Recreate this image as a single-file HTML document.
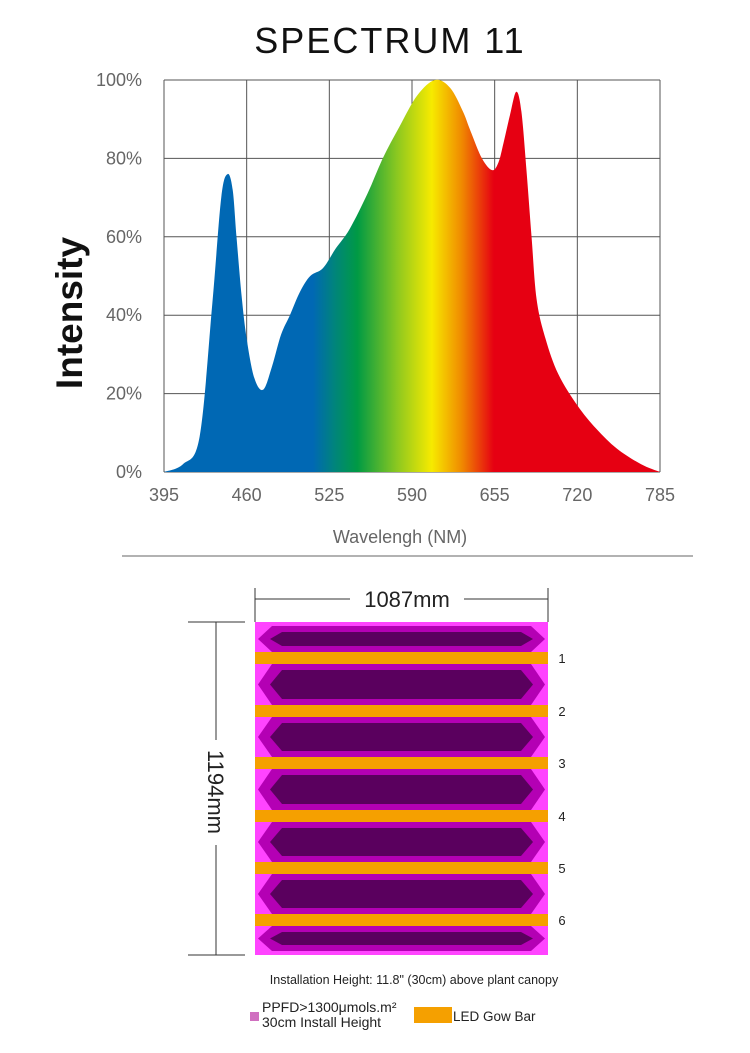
<!DOCTYPE html>
<html><head><meta charset="utf-8"><style>
body{margin:0;background:#fff;}
svg{display:block;font-family:"Liberation Sans",sans-serif;}
</style></head><body>
<svg id="s" width="750" height="1053" viewBox="0 0 750 1053">
<defs>
<linearGradient id="spec" gradientUnits="userSpaceOnUse" x1="164" y1="0" x2="660" y2="0">
<stop offset="0" stop-color="#0068b4"/><stop offset="0.30" stop-color="#0068b4"/>
<stop offset="0.345" stop-color="#00857a"/><stop offset="0.39" stop-color="#009a44"/>
<stop offset="0.47" stop-color="#8cc820"/><stop offset="0.54" stop-color="#f7ea00"/>
<stop offset="0.60" stop-color="#f08a00"/><stop offset="0.665" stop-color="#e60012"/>
<stop offset="1" stop-color="#e60012"/></linearGradient>
</defs>
<text x="390" y="53" font-size="36" text-anchor="middle" fill="#111" letter-spacing="2">SPECTRUM 11</text>
<g id="grid"></g>
<path id="area" fill="url(#spec)"/>
<g id="labels"></g>
<text transform="translate(82,313) rotate(-90)" font-size="37" font-weight="bold" text-anchor="middle" fill="#111">Intensity</text>
<text x="400" y="543" font-size="18" text-anchor="middle" fill="#666">Wavelengh (NM)</text>
<line x1="122" y1="556" x2="693" y2="556" stroke="#999" stroke-width="1.5"/>

<g stroke="#333" stroke-width="1">
<line x1="255" y1="588" x2="255" y2="622"/><line x1="548" y1="588" x2="548" y2="622"/>
<line x1="255" y1="599" x2="350" y2="599"/><line x1="464" y1="599" x2="548" y2="599"/>
</g>
<text x="407" y="607" font-size="22" text-anchor="middle" fill="#222">1087mm</text>
<g stroke="#333" stroke-width="1">
<line x1="188" y1="622" x2="245" y2="622"/><line x1="188" y1="955" x2="245" y2="955"/>
<line x1="216" y1="622" x2="216" y2="740"/><line x1="216" y1="845" x2="216" y2="955"/>
</g>
<text transform="translate(208,792) rotate(90)" font-size="22" text-anchor="middle" fill="#222">1194mm</text>
<rect x="255" y="622" width="293" height="333" fill="#ff44ff"/>
<g id="diagram"></g>

<text x="414" y="984" font-size="12.5" text-anchor="middle" fill="#222">Installation Height: 11.8" (30cm) above plant canopy</text>
<rect x="250" y="1012" width="9" height="9" fill="#d070c0"/>
<text x="262" y="1012" font-size="14" fill="#222">PPFD&gt;1300μmols.m²</text>
<text x="262" y="1027" font-size="14" fill="#222">30cm Install Height</text>
<rect x="414" y="1007" width="38" height="16" fill="#f5a000"/>
<text x="453" y="1021" font-size="13.5" fill="#222">LED Gow Bar</text>
</svg>
<script>
const wavelengths=[395,410,423,433,440,445,449,452,456,460,466,473,480,487,494,502,510,520,530,541,555,567,580,594,608,620,630,636,645,653,658,662,667,672,676,680,684,688,695,705,720,735,751,770,785];
const intensity=[0,2,9,43,70,76,72,60,45,34,24,21,27,35,40,46,50,52,57,62,71,80,88,96,100,98,92,87,80,77,79,84,91,97,92,77,60,44,34,25,17,11,6,2,0];
const xTicks=[395,460,525,590,655,720,785];
const yTicks=[0,20,40,60,80,100];
const barNumbers=[1,2,3,4,5,6];
const NS="http://www.w3.org/2000/svg";
const X0=164,X1=660,Y0=472,Y1=80;
const xs=w=>X0+(w-395)/(785-395)*(X1-X0);
const ys=v=>Y0-v/100*(Y0-Y1);
function mk(t,a,p){const e=document.createElementNS(NS,t);for(const k in a)e.setAttribute(k,a[k]);(p||document.getElementById('s')).appendChild(e);return e;}
const grid=document.getElementById('grid');
xTicks.forEach(t=>{const l=mk('line',{x1:xs(t),x2:xs(t),y1:Y1,y2:Y0,stroke:'#555','stroke-width':1},grid);


const tx=mk('text',{x:xs(t),y:501,'font-size':18,'text-anchor':'middle',fill:'#666'},document.getElementById('labels'));tx.textContent=t;

});
yTicks.forEach(t=>{const l=mk('line',{x1:X0,x2:X1,y1:ys(t),y2:ys(t),stroke:'#555','stroke-width':1},grid);


const tx=mk('text',{x:142,y:ys(t)+6,'font-size':18,'text-anchor':'end',fill:'#666'},document.getElementById('labels'));tx.textContent=t+'%';

});
const P=wavelengths.map((w,i)=>[xs(w),ys(intensity[i])]);
let d=`M${P[0][0]},${P[0][1]}`;
for(let i=0;i<P.length-1;i++){const p0=P[Math.max(0,i-1)],p1=P[i],p2=P[i+1],p3=P[Math.min(P.length-1,i+2)];
const c1=[p1[0]+(p2[0]-p0[0])/6,p1[1]+(p2[1]-p0[1])/6],c2=[p2[0]-(p3[0]-p1[0])/6,p2[1]-(p3[1]-p1[1])/6];
d+=`C${c1[0]},${Math.min(Y0,c1[1])} ${c2[0]},${Math.min(Y0,c2[1])} ${p2[0]},${p2[1]}`;}
d+=`L${X1},${Y0}Z`;
document.getElementById('area').setAttribute('d',d);
const dg=document.getElementById('diagram');
const barTop=[652,705,757,810,862,914];
const bands=[[626,652]];
for(let i=0;i<5;i++)bands.push([barTop[i]+12,barTop[i+1]]);
bands.push([926,951]);
bands.forEach((b,i)=>{const [t,bt]=b,m=(t+bt)/2;
const o=mk('polygon',{points:`${272},${t} ${531},${t} ${545},${m} ${531},${bt} ${272},${bt} ${258},${m}`,fill:'#b400b4'},dg);


const n=mk('polygon',{points:`${282},${t+6} ${521},${t+6} ${533},${m} ${521},${bt-6} ${282},${bt-6} ${270},${m}`,fill:'#5a005e'},dg);

});
barTop.forEach((y,i)=>{const r=mk('rect',{x:255,y:y,width:293,height:12,fill:'#f5a000'},dg);


const tx=mk('text',{x:562,y:y+11,'font-size':13,'text-anchor':'middle',fill:'#222'},dg);tx.textContent=barNumbers[i];

});
</script>
</body></html>
